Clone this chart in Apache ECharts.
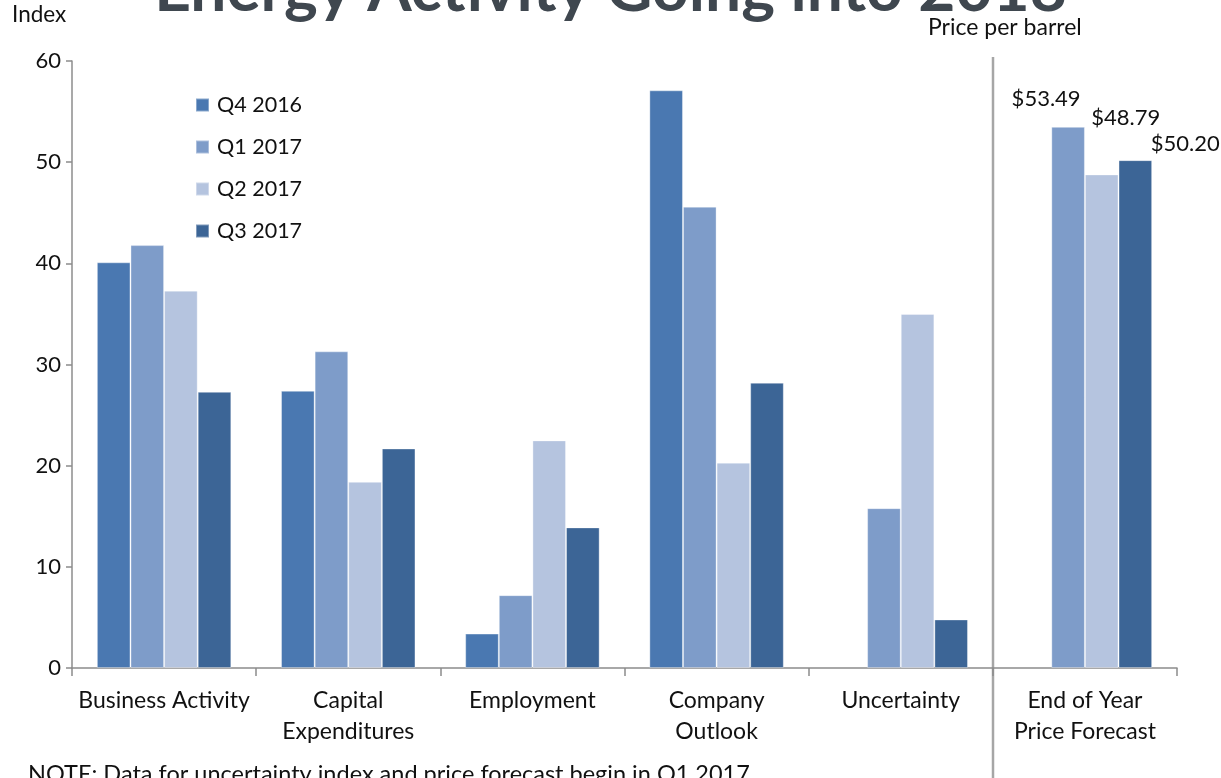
<!DOCTYPE html>
<html>
<head>
<meta charset="utf-8">
<script src="https://cdn.jsdelivr.net/npm/echarts@6/dist/echarts.min.js"></script>
<style>
  html, body { margin: 0; padding: 0; background: #fff; }
  #chart { width: 1221px; height: 778px; }
</style>
</head>
<body>
<div id="chart"></div>
<script>
// categories and values
const categories = ['Business Activity', 'Capital\nExpenditures', 'Employment', 'Company\nOutlook', 'Uncertainty', 'End of Year\nPrice Forecast']
const seriesNames = ['Q4 2016', 'Q1 2017', 'Q2 2017', 'Q3 2017']
const q4_2016 = [40.1, 27.4, 3.4, 57.1, null, null]
const q1_2017 = [41.8, 31.3, 7.2, 45.6, 15.8, 53.49]
const q2_2017 = [37.3, 18.4, 22.5, 20.3, 35.0, 48.79]
const q3_2017 = [27.3, 21.7, 13.9, 28.2, 4.8, 50.20]
const yTicks = [0, 10, 20, 30, 40, 50, 60]

const colors = ['#4a78b1', '#7e9cc9', '#b5c4df', '#3c6596']
const font = 'Lato, "Liberation Sans", sans-serif'
const labelOffsets = [null, [-22, -12], [24, -41], [50, 0]]

let chart = echarts.init(document.getElementById('chart'))

let makeSeries = (name, data, i) => ({
    name: name,
    type: 'bar',
    data: data.map((v, k) => {
        if (k === categories.length - 1 && v != null) {
            return {
                value: v,
                label: {
                    show: true, position: 'top', offset: labelOffsets[i],
                    formatter: (p) => '$' + p.value.toFixed(2),
                    fontFamily: font, fontSize: 22, color: '#111'
                }
            }
        }
        return v
    }),
    barGap: '0%',
    barCategoryGap: '27%',
    itemStyle: { color: colors[i], borderColor: 'rgba(255,255,255,0.35)', borderWidth: 1 }
})

chart.setOption({
    animation: false,
    textStyle: { fontFamily: font },
    grid: { left: 72, right: 44, top: 61, bottom: 110, containLabel: false },
    legend: {
        orient: 'vertical', left: 195, top: 94, padding: 0,
        itemWidth: 13, itemHeight: 13, itemGap: 20,
        icon: 'rect',
        textStyle: { fontFamily: font, fontSize: 21.5, color: '#111', padding: [0, 0, 0, 3] },
        data: seriesNames
    },
    xAxis: {
        type: 'category',
        data: categories,
        axisLine: { lineStyle: { color: '#8c8c8c', width: 1.5 } },
        axisTick: { show: true, length: 8, lineStyle: { color: '#8c8c8c', width: 1.5 } },
        axisLabel: { fontFamily: font, fontSize: 23, color: '#111', lineHeight: 31, margin: 17, interval: 0 }
    },
    yAxis: {
        type: 'value',
        min: yTicks[0], max: yTicks[yTicks.length - 1], interval: 10,
        splitLine: { show: false },
        axisLine: { show: true, lineStyle: { color: '#8c8c8c', width: 1.5 } },
        axisTick: { show: true, length: 6, lineStyle: { color: '#8c8c8c', width: 1.5 } },
        axisLabel: { fontFamily: font, fontSize: 22, color: '#111', margin: 11 }
    },
    series: [
        makeSeries(seriesNames[0], q4_2016, 0),
        makeSeries(seriesNames[1], q1_2017, 1),
        makeSeries(seriesNames[2], q2_2017, 2),
        makeSeries(seriesNames[3], q3_2017, 3)
    ]
})

// separator between index panels and price forecast, placed from the axis scale
let last = categories.length - 1
let xa = chart.convertToPixel({ xAxisIndex: 0 }, last)
let xb = chart.convertToPixel({ xAxisIndex: 0 }, last - 1)
let sepX = Math.round((xa + xb) / 2)
let yTop = chart.convertToPixel({ yAxisIndex: 0 }, 60)

chart.setOption({
    graphic: [
        {
            type: 'text', left: 'center', top: -42,
            style: { text: 'Energy Activity Going into 2018', fontFamily: font, fontWeight: 'bold', fontSize: 64, fill: '#3f474f' }
        },
        { type: 'text', left: 12, top: 3, style: { text: 'Index', fontFamily: font, fontSize: 22.5, fill: '#111' } },
        { type: 'text', left: 928, top: 16, style: { text: 'Price per barrel', fontFamily: font, fontSize: 23, fill: '#111' } },
        {
            type: 'line', shape: { x1: sepX, y1: yTop - 4, x2: sepX, y2: 778 },
            style: { stroke: '#a6a6a6', lineWidth: 2.5 }
        },
        {
            type: 'text', left: 28, top: 762,
            style: { text: 'NOTE: Data for uncertainty index and price forecast begin in Q1 2017.', fontFamily: font, fontSize: 23.5, fill: '#111' }
        }
    ]
})
</script>
</body>
</html>
